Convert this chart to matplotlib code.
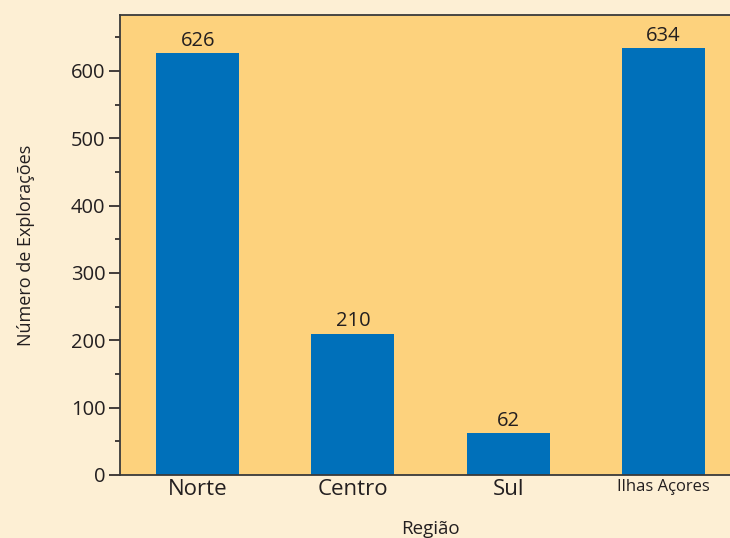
import matplotlib
matplotlib.use("Agg")
import matplotlib.pyplot as plt
from matplotlib.ticker import MultipleLocator

categories = ["Norte", "Centro", "Sul", "Ilhas Açores"]
values = [626, 210, 62, 634]
label_sizes = [16, 16, 16, 12]

plt.rcParams['font.family'] = ['Open Sans', 'DejaVu Sans']

fig = plt.figure(figsize=(7.3, 5.38), dpi=100, facecolor='#FDEFD4')
ax = fig.add_axes([120/730, 63/538, 621/730, 460/538])
ax.set_facecolor('#FDD27D')

x = list(range(len(categories)))
bars = ax.bar(x, values, width=0.535, color='#0070BA', zorder=2)
for xi, v in zip(x, values):
    ax.annotate(str(v), (xi, v), xytext=(0, 1.5), textcoords='offset points',
                ha='center', va='bottom', fontsize=14.5, color='#231F20')

ax.set_xlim(-0.5, 3.5)
ax.set_ylim(0, 683)
ax.yaxis.set_major_locator(MultipleLocator(100))
ax.yaxis.set_minor_locator(MultipleLocator(50))
ax.tick_params(axis='y', which='major', length=8, width=1.2, color='#231F20',
               labelsize=14.5, labelcolor='#231F20', pad=2.5)
ax.tick_params(axis='y', which='minor', length=3.8, width=1.2, color='#231F20')
ax.set_xticks(x)
ax.set_xticklabels(categories, color='#231F20')
for lbl, s in zip(ax.get_xticklabels(), label_sizes):
    lbl.set_fontsize(s)
ax.tick_params(axis='x', length=0, pad=3)

for side in ['left', 'bottom', 'top']:
    ax.spines[side].set_color('#3a3a3a')
    ax.spines[side].set_linewidth(1.3)
ax.spines['right'].set_visible(False)

ax.set_ylabel('Número de Explorações', fontsize=13, color='#231F20', labelpad=26)
ax.set_xlabel('Região', fontsize=13.5, color='#231F20', labelpad=14)

fig.savefig('out.png', dpi=100, facecolor=fig.get_facecolor())
